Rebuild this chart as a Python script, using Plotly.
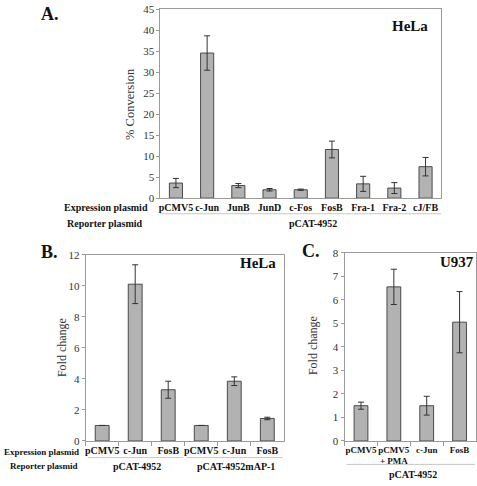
import plotly.graph_objects as go

W, H = 477, 486

# Panel A data
a_cats = ["pCMV5", "c-Jun", "JunB", "JunD", "c-Fos", "FosB", "Fra-1", "Fra-2", "cJ/FB"]
a_vals = [3.6, 34.6, 3.0, 2.0, 2.0, 11.6, 3.4, 2.4, 7.5]
a_err = [1.1, 4.1, 0.5, 0.3, 0.15, 2.0, 1.8, 1.3, 2.2]

# Panel B data
b_cats = ["pCMV5", "c-Jun", "FosB", "pCMV5 ", "c-Jun ", "FosB "]
b_vals = [1.0, 10.1, 3.3, 1.0, 3.85, 1.45]
b_err = [0.0, 1.25, 0.55, 0.0, 0.28, 0.08]

# Panel C data
c_cats = ["pCMV5", "pCMV5<br>+ PMA", "c-Jun", "FosB"]
c_vals = [1.5, 6.55, 1.5, 5.05]
c_err = [0.15, 0.75, 0.4, 1.3]

FONT = "Liberation Serif"
BAR = "#b2b2b2"
EDGE = "#4a4a4a"

def px(x):
    return x / W

def py(y):
    return 1 - y / H

fig = go.Figure()

def add_bars(cats, vals, errs, xa, ya):
    fig.add_trace(go.Bar(
        x=cats, y=vals, xaxis=xa, yaxis=ya, width=0.42,
        marker=dict(color=BAR, line=dict(color=EDGE, width=1)),
        error_y=dict(type="data", array=errs, visible=True, color="#333333",
                     thickness=1, width=3),
        showlegend=False, hoverinfo="skip"))

add_bars(a_cats, a_vals, a_err, "x", "y")
add_bars(b_cats, b_vals, b_err, "x2", "y2")
add_bars(c_cats, c_vals, c_err, "x3", "y3")

def xaxis(domain, ticks, size):
    return dict(domain=domain, type="category", showline=True, mirror=True,
                linecolor="#9a9a9a", linewidth=1, showgrid=False,
                ticks="outside" if ticks else "", tickson="boundaries",
                ticklen=4, tickcolor="#9a9a9a", tickangle=0,
                tickfont=dict(family=FONT, size=size, color="#111"),
                fixedrange=True)

def yaxis(domain, rng, dtick, anchor):
    return dict(domain=domain, range=rng, dtick=dtick, showline=True, mirror=True,
                linecolor="#9a9a9a", linewidth=1, showgrid=False, zeroline=False,
                ticks="outside", ticklen=3, tickcolor="#9a9a9a", anchor=anchor,
                tickfont=dict(family=FONT, size=11, color="#333"), fixedrange=True)

def bold_labels(cats):
    return ["<b>" + c.strip().replace("<br>", "</b><br><b>") + "</b>" for c in cats]

xa = xaxis([px(159), px(441)], False, 10)
xa.update(anchor="y", tickvals=a_cats, ticktext=bold_labels(a_cats))
xb = xaxis([px(84), px(283)], True, 10)
xb.update(anchor="y2", tickvals=b_cats, ticktext=bold_labels(b_cats))
xc = xaxis([px(344), px(476)], True, 9)
xc.update(anchor="y3", tickvals=c_cats, ticktext=bold_labels(c_cats))

fig.update_layout(
    width=W, height=H, margin=dict(l=0, r=0, t=0, b=0),
    paper_bgcolor="white", plot_bgcolor="white",
    font=dict(family=FONT, color="#222"),
    xaxis=xa, xaxis2=xb, xaxis3=xc,
    yaxis=yaxis([py(197), py(3.5)], [0, 45], 5, "x"),
    yaxis2=yaxis([py(446), py(255)], [0, 12], 2, "x2"),
    yaxis3=yaxis([py(446), py(253)], [0, 8], 1, "x3"),
)

anns = []
def txt(x, y, s, size, bold=False, angle=0, color="#111", xanchor="center"):
    anns.append(dict(x=px(x), y=py(y), xref="paper", yref="paper",
                     text=("<b>%s</b>" % s) if bold else s, showarrow=False,
                     textangle=angle, xanchor=xanchor, yanchor="middle",
                     font=dict(family=FONT, size=size, color=color)))

# panel letters & cell lines
txt(48, 8, "A.", 18, True)
txt(48, 252, "B.", 18, True)
txt(310, 251, "C.", 18, True)
txt(430, 21, "HeLa", 15, True, xanchor="right")
txt(277, 263, "HeLa", 15, True, xanchor="right")
txt(476, 262, "U937", 15, True, xanchor="right")

# y titles
txt(128, 100, "% Conversion", 12.5, angle=-90, color="#333")
txt(61, 350, "Fold change", 12, angle=-90, color="#333")
txt(313, 348, "Fold change", 12, angle=-90, color="#333")

# row labels
txt(104, 207, "Expression plasmid", 10, True)
txt(103, 223, "Reporter plasmid", 10, True)
txt(312, 223, "pCAT-4952", 10, True)

txt(0, 457, "Expression plasmid", 9, True, xanchor="left")
txt(42, 472, "Reporter plasmid", 9, True)
txt(136, 472, "pCAT-4952", 10, True)
txt(235, 472, "pCAT-4952mAP-1", 10, True)

txt(413, 480, "pCAT-4952", 10, True)

fig.update_layout(annotations=anns)

shapes = []
def hline(x0, x1, y):
    shapes.append(dict(type="line", xref="paper", yref="paper",
                       x0=px(x0), x1=px(x1), y0=py(y), y1=py(y),
                       line=dict(color="#c8c8c8", width=1)))
hline(159, 441, 213)
hline(86, 182, 463)
hline(185, 282, 463)
hline(346, 475, 470)
fig.update_layout(shapes=shapes)

fig.write_html("out.html", config={"displayModeBar": False},
               post_script="document.body.style.margin='0';document.body.style.overflow='hidden';")
